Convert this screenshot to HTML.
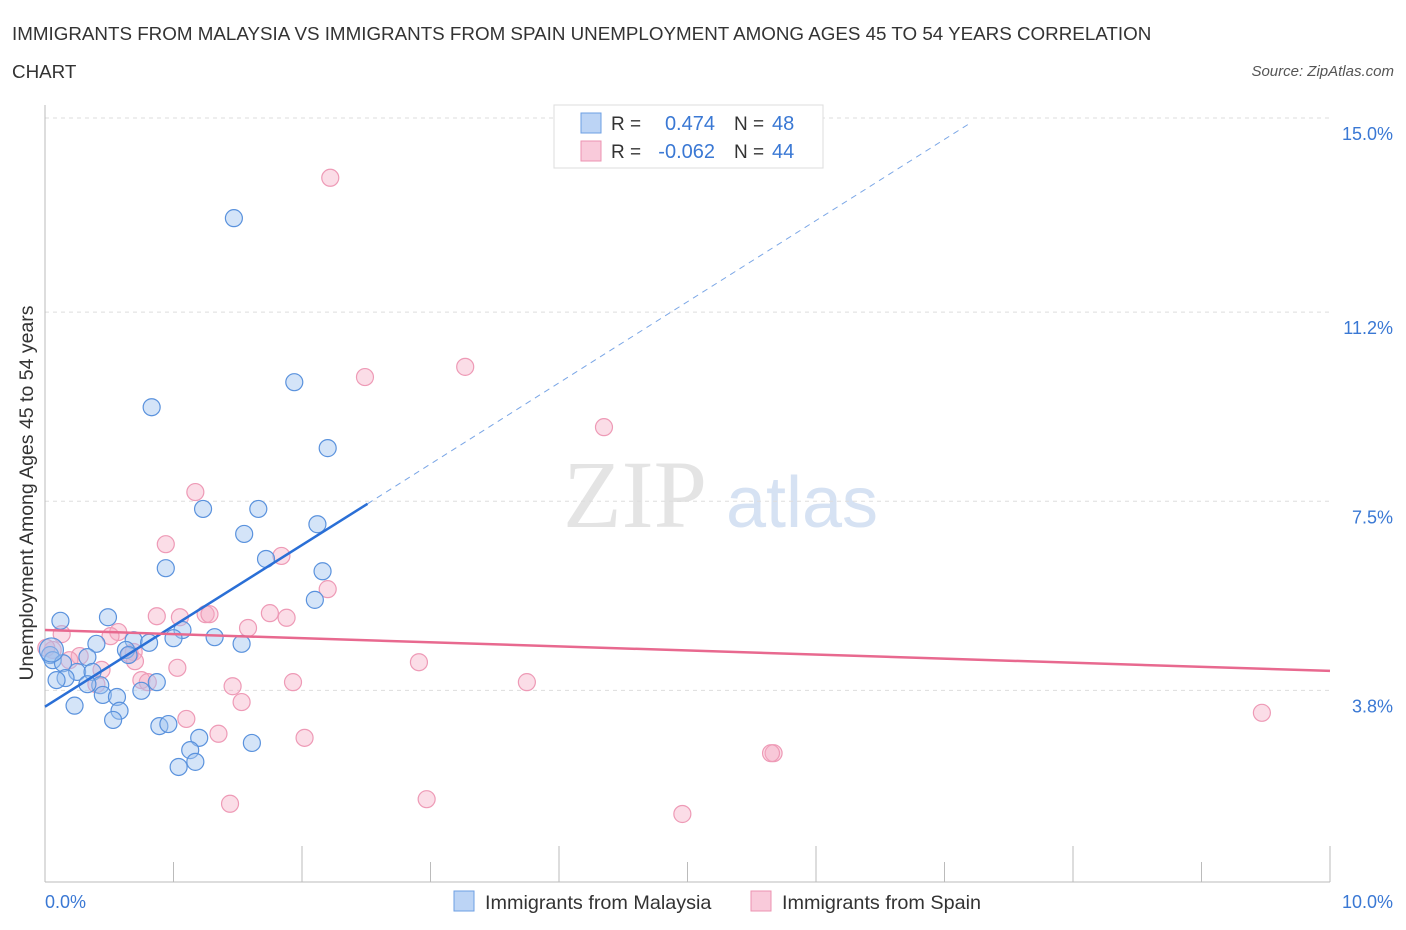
<!DOCTYPE html>
<html><head><meta charset="utf-8"><style>
body{margin:0;background:#fff;font-family:"Liberation Sans",sans-serif;}
#wrap{position:relative;width:1406px;height:930px;overflow:hidden;}
</style></head><body>
<div id="wrap">
<svg id="svg" width="1406" height="930" xmlns="http://www.w3.org/2000/svg">
<text x="12" y="40" font-size="18.8" fill="#333">IMMIGRANTS FROM MALAYSIA VS IMMIGRANTS FROM SPAIN UNEMPLOYMENT AMONG AGES 45 TO 54 YEARS CORRELATION</text>
<text x="12" y="78" font-size="18.8" fill="#333">CHART</text>
<text x="1394" y="76" font-size="15" fill="#555" font-style="italic" text-anchor="end">Source: ZipAtlas.com</text>
<text x="635" y="527" font-size="96" fill="#e4e4e4" font-family="Liberation Serif,serif" text-anchor="middle">ZIP</text>
<text x="802" y="527" font-size="72" fill="#d6e2f3" text-anchor="middle">atlas</text>
<g id="grid"></g>
<line x1="45" y1="105" x2="45" y2="882" stroke="#bbb"/>
<line x1="45" y1="882" x2="1330" y2="882" stroke="#bbb"/>
<g id="ticks"></g>
<text x="33" y="493" font-size="19.5" fill="#333" text-anchor="middle" transform="rotate(-90 33 493)">Unemployment Among Ages 45 to 54 years</text>
<text x="45" y="908" font-size="18" fill="#3a78d4">0.0%</text>
<text x="1393" y="908" font-size="18" fill="#3a78d4" text-anchor="end">10.0%</text>
<g id="pts"></g>
<g id="lines"></g>
<g>
<rect x="554" y="105" width="269" height="63" fill="#fff" stroke="#ddd"/>
<rect x="581" y="113" width="20" height="20" fill="#bcd4f5" stroke="#6d9fe3"/>
<rect x="581" y="141" width="20" height="20" fill="#f9cada" stroke="#ec93b1"/>
<text x="611" y="130" font-size="19" fill="#333">R =</text><text x="715" y="130" font-size="20" fill="#3a78d4" text-anchor="end">0.474</text>
<text x="734" y="130" font-size="19" fill="#333">N =</text><text x="772" y="130" font-size="20" fill="#3a78d4">48</text>
<text x="611" y="158" font-size="19" fill="#333">R =</text><text x="715" y="158" font-size="20" fill="#3a78d4" text-anchor="end">-0.062</text>
<text x="734" y="158" font-size="19" fill="#333">N =</text><text x="772" y="158" font-size="20" fill="#3a78d4">44</text>
</g>
<g><rect x="454" y="891" width="20" height="20" fill="#bcd4f5" stroke="#6d9fe3"/><text x="485" y="909" font-size="19.8" fill="#333">Immigrants from Malaysia</text></g>
<g><rect x="751" y="891" width="20" height="20" fill="#f9cada" stroke="#ec93b1"/><text x="782" y="909" font-size="19.8" fill="#333">Immigrants from Spain</text></g>
</svg>
</div>
<script>
const yTicks=[15.0,11.2,7.5,3.8];
const yTickLabels=["15.0%","11.2%","7.5%","3.8%"];
const xTicks=[0,1,2,3,4,5,6,7,8,9,10];
const malaysiaX=[1.47,0.83,1.94,2.20,1.23,1.66,1.55,2.12,0.94,1.72,2.16,2.10,0.49,0.12,1.07,1.00,1.32,0.69,0.81,0.40,1.53,0.63,0.65,0.04,0.06,0.33,0.14,0.25,0.37,0.16,0.09,0.43,0.33,0.45,0.56,0.75,0.87,0.58,0.23,0.53,0.89,0.96,1.20,1.13,1.17,1.04,1.61,0.05];
const malaysiaY=[13.04,9.34,9.83,8.54,7.35,7.35,6.86,7.05,6.19,6.37,6.13,5.57,5.23,5.16,4.98,4.82,4.84,4.78,4.73,4.71,4.71,4.59,4.49,4.49,4.39,4.45,4.33,4.16,4.16,4.04,4.00,3.90,3.92,3.71,3.67,3.79,3.96,3.40,3.50,3.22,3.10,3.14,2.87,2.63,2.40,2.30,2.77,4.59];
const spainX=[2.22,2.49,3.27,4.35,1.17,0.94,1.84,2.20,0.87,1.05,1.25,1.28,1.75,1.88,1.58,0.13,0.57,0.51,0.06,0.27,0.69,0.66,0.70,1.03,2.91,0.01,0.44,0.19,0.75,0.80,1.46,1.93,3.75,0.40,1.53,1.10,1.35,2.02,9.47,5.67,5.65,1.44,2.97,4.96];
const spainY=[13.83,9.93,10.13,8.95,7.68,6.66,6.43,5.78,5.25,5.23,5.29,5.29,5.31,5.22,5.02,4.90,4.94,4.86,4.59,4.47,4.55,4.51,4.37,4.24,4.35,4.63,4.20,4.39,4.00,3.96,3.88,3.96,3.96,3.92,3.57,3.24,2.95,2.87,3.36,2.57,2.57,1.58,1.67,1.38];
const blueTrend=[[0,3.48],[2.51,7.45],[7.2,14.9]];
const pinkTrend=[[0,4.98],[10,4.18]];
const NS="http://www.w3.org/2000/svg";
const xS=v=>45+v*128.5, yS=v=>118+(15-v)*51.1;
function mk(t,a,p){const e=document.createElementNS(NS,t);for(const k in a)e.setAttribute(k,a[k]);p.appendChild(e);return e;}
const grid=document.getElementById('grid'),ticks=document.getElementById('ticks'),pts=document.getElementById('pts'),lines=document.getElementById('lines');
yTicks.forEach((v,i)=>{
 const g=mk('line',{x1:45,x2:1330,y1:yS(v),y2:yS(v),stroke:'#ddd','stroke-dasharray':'4,4'},grid);
 
 
 const t=mk('text',{x:1393,y:yS(v)+22,'font-size':18,fill:'#3a78d4','text-anchor':'end'},ticks);
 t.textContent=yTickLabels[i];
 
 
});
xTicks.forEach(v=>{
 const l=mk('line',{x1:xS(v),x2:xS(v),y1:(v%2==0?846:862),y2:882,stroke:'#bbb'},ticks);
 
 
});
spainX.forEach((x,i)=>{
 const c=mk('circle',{cx:xS(x),cy:yS(spainY[i]),r:8.5,fill:'rgba(246,170,196,0.4)',stroke:'#ee9ab6','stroke-width':1.2},pts);
 
 
});
malaysiaX.forEach((x,i)=>{
 const c=mk('circle',{cx:xS(x),cy:yS(malaysiaY[i]),r:(i==47?12:8.5),fill:'rgba(160,196,240,0.45)',stroke:'#5a92dd','stroke-width':1.2},pts);
 
 
});
const b1=mk('line',{x1:xS(blueTrend[0][0]),y1:yS(blueTrend[0][1]),x2:xS(blueTrend[1][0]),y2:yS(blueTrend[1][1]),stroke:'#2a6fd6','stroke-width':2.5},lines);


const b2=mk('line',{x1:xS(blueTrend[1][0]),y1:yS(blueTrend[1][1]),x2:xS(blueTrend[2][0]),y2:yS(blueTrend[2][1]),stroke:'#7aa6e6','stroke-width':1,'stroke-dasharray':'6,5'},lines);


const p1=mk('line',{x1:xS(pinkTrend[0][0]),y1:yS(pinkTrend[0][1]),x2:xS(pinkTrend[1][0]),y2:yS(pinkTrend[1][1]),stroke:'#e8698f','stroke-width':2.5},lines);


</script>
</body></html>
